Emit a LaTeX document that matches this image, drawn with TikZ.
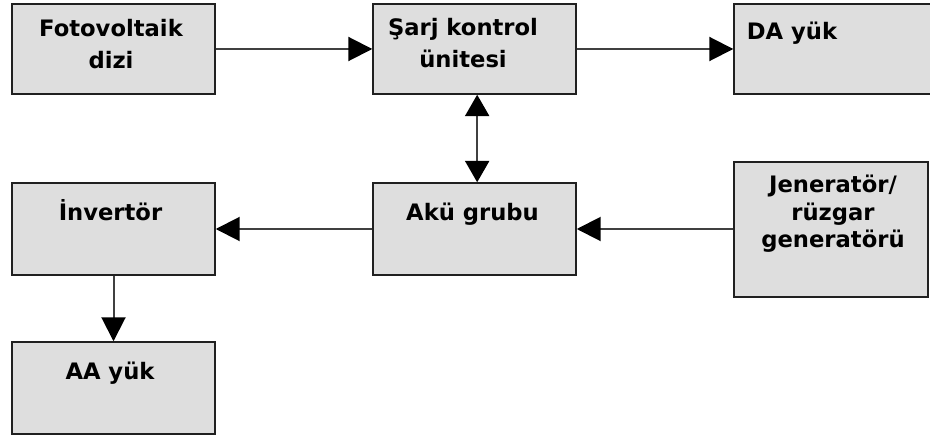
\documentclass[tikz,border=0pt]{standalone}
\usepackage{fontspec}
\setmainfont{DejaVu Sans}
\usetikzlibrary{arrows.meta}
\definecolor{boxfill}{HTML}{DEDEDE}
\definecolor{boxline}{HTML}{202020}
\definecolor{arrline}{HTML}{404040}
\begin{document}
\begin{tikzpicture}[x=0.75pt,y=-0.75pt,
  blk/.style={draw=boxline,fill=boxfill,line width=1.1pt,rectangle,inner sep=0pt,
    minimum width=152.25pt},
  lbl/.style={anchor=north,inner sep=0pt,align=center,font=\bfseries\fontsize{17}{24}\selectfont},
  conn/.style={draw=arrline,line width=1.5pt,-{Triangle[length=18pt,width=18pt,black]}},
  biconn/.style={draw=arrline,line width=1.5pt,{Triangle[length=16pt,width=18pt,black]}-{Triangle[length=16pt,width=18pt,black]}}]
\useasboundingbox (0,0) rectangle (930,438);
\begin{scope}
\clip (0,0) rectangle (930,438);
\node[blk,minimum height=67.5pt] (pv) at (113.5,49) {};
\node[blk,minimum height=67.5pt] (sc) at (474.5,49) {};
\node[blk,minimum height=67.5pt] (da) at (835.5,49) {};
\node[blk,minimum height=69pt] (inv) at (113.5,229) {};
\node[blk,minimum height=69pt] (aku) at (474.5,229) {};
\node[blk,minimum width=145.5pt,minimum height=101.25pt] (gen) at (831,229.5) {};
\node[blk,minimum height=69pt] (aa) at (113.5,388) {};
\end{scope}
% labels (top of text = first baseline - 17pt)
\node[lbl] (pvt) at (111,14) {\rule{0pt}{17pt}Fotovoltaik\\dizi};
\node[lbl] (sct) at (463,13) {\rule{0pt}{17pt}Şarj kontrol\\ünitesi};
\node[lbl] (dat) at (792,17) {\rule{0pt}{17pt}DA yük};
\node[lbl] (invt) at (110.5,198) {\rule{0pt}{17pt}İnvertör};
\node[lbl] (akut) at (472.5,198) {\rule{0pt}{17pt}Akü grubu};
\node[lbl,font=\bfseries\fontsize{17}{20.5}\selectfont] (gent) at (833,170) {\rule{0pt}{17pt}Jeneratör/\\rüzgar\\generatörü};
\node[lbl] (aat) at (110,357) {\rule{0pt}{17pt}AA yük};
% connectors
\draw[conn] (pv.east) -- (sc.west);
\draw[conn] (sc.east) -- (da.west);
\draw[biconn] ([xshift=2pt]sc.south) -- ([xshift=2pt]aku.north);
\draw[conn] (aku.west) -- (inv.east);
\draw[conn] (gen.west |- aku.east) -- (aku.east);
\draw[conn] (inv.south) -- (aa.north);
\end{tikzpicture}
\end{document}
